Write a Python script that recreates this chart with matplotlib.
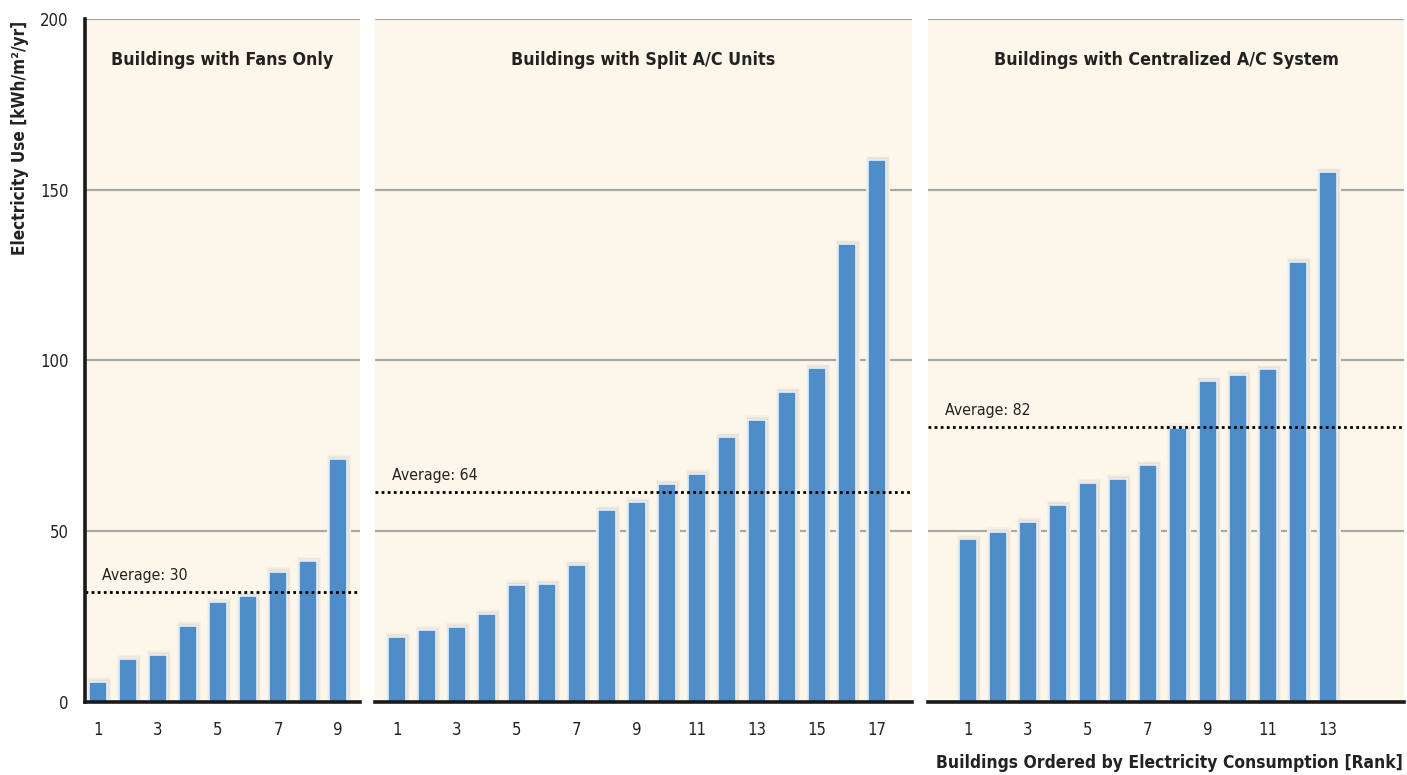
import numpy as np
import matplotlib.pyplot as plt

plt.rcParams['font.family'] = ['DejaVu Sans']
plt.rcParams['font.stretch'] = 'condensed'

titles = ["Buildings with Fans Only",
          "Buildings with Split A/C Units",
          "Buildings with Centralized A/C System"]

fans = [5.9, 12.5, 13.8, 22.3, 29.2, 31.1, 38.2, 41.2, 71.2]
split = [19.0, 21.0, 22.0, 25.8, 34.3, 34.6, 40.1, 56.2, 58.6, 63.8, 66.8,
         77.6, 82.6, 90.8, 97.8, 134.1, 158.7]
central = [47.6, 49.9, 52.8, 57.7, 64.0, 65.4, 69.4, 80.3, 94.0, 95.8, 97.5,
           128.8, 155.2]

avg_lines = [32.1, 61.5, 80.4]
avg_labels = ["Average: 30", "Average: 64", "Average: 82"]

yticks = [0, 50, 100, 150, 200]

W, H = 1407, 775
fig = plt.figure(figsize=(W / 100, H / 100), dpi=100)

# panel pixel extents and x limits
panels = [(85, 360, (0.57, 9.73)),
          (375, 912, (0.27, 18.17)),
          (928, 1404, (-0.33, 15.53))]
y_top, y_bot = 19, 702

bar_col = '#4F8DC9'
bg_col = '#FDF6EA'
all_data = [fans, split, central]

for i, (x0, x1, xl) in enumerate(panels):
    ax = fig.add_axes([x0 / W, (H - y_bot) / H, (x1 - x0) / W, (y_bot - y_top) / H])
    ax.set_facecolor(bg_col)
    data = np.array(all_data[i])
    x = np.arange(1, len(data) + 1)
    for g in yticks[1:]:
        ax.axhline(g, color='#A8A8A8', lw=1.6, zorder=1)
    # soft shadow behind bars (layered to fake a blur)
    for w, pad, c in [(0.80, 1.3, '#F7F0E5'), (0.75, 0.9, '#F0E8DB'), (0.70, 0.5, '#E8DFD0')]:
        ax.bar(x + 0.03, data + pad, width=w, color=c, zorder=2)
    ax.bar(x, data, width=0.62, color=bar_col, edgecolor='#E4EEF8', linewidth=1.2, zorder=3)
    ax.axhline(avg_lines[i], color='black', ls=(0, (1, 1.2)), lw=2.0, zorder=4)
    ax.text(xl[0] + 0.55, avg_lines[i] + 3.5, avg_labels[i],
            fontsize=11.3, color='#222222', zorder=5)
    ax.text(0.5, 0.94, titles[i], transform=ax.transAxes, ha='center', va='center',
            fontsize=12.8, fontweight='bold', color='#222222')
    ax.set_xlim(*xl)
    ax.set_ylim(0, 200)
    ax.set_xticks(x[::2])
    ax.set_xticklabels([str(v) for v in x[::2]])
    ax.set_yticks(yticks)
    ax.tick_params(length=0, labelsize=12, colors='#222222', pad=14)
    for s in ['top', 'right', 'left']:
        ax.spines[s].set_visible(False)
    ax.spines['bottom'].set_linewidth(2.6)
    ax.spines['bottom'].set_color('#1a1a1a')
    ax.spines['bottom'].set_zorder(6)
    if i == 0:
        ax.spines['left'].set_visible(True)
        ax.spines['left'].set_linewidth(2.6)
        ax.spines['left'].set_color('#1a1a1a')
        ax.spines['left'].set_zorder(6)
        ax.tick_params(axis='y', pad=12)
    else:
        ax.set_yticklabels([])

fig.text(20 / W, 1 - 21 / H, "Electricity Use [kWh/m\u00b2/yr]", rotation=90,
         ha='center', va='top', fontsize=12.3, fontweight='bold', color='#222222')
fig.text(1403 / W, 1 - 763 / H, "Buildings Ordered by Electricity Consumption [Rank]",
         ha='right', va='center', fontsize=12.5, fontweight='bold', color='#222222')

fig.savefig('out.png', dpi=100, facecolor='white')
